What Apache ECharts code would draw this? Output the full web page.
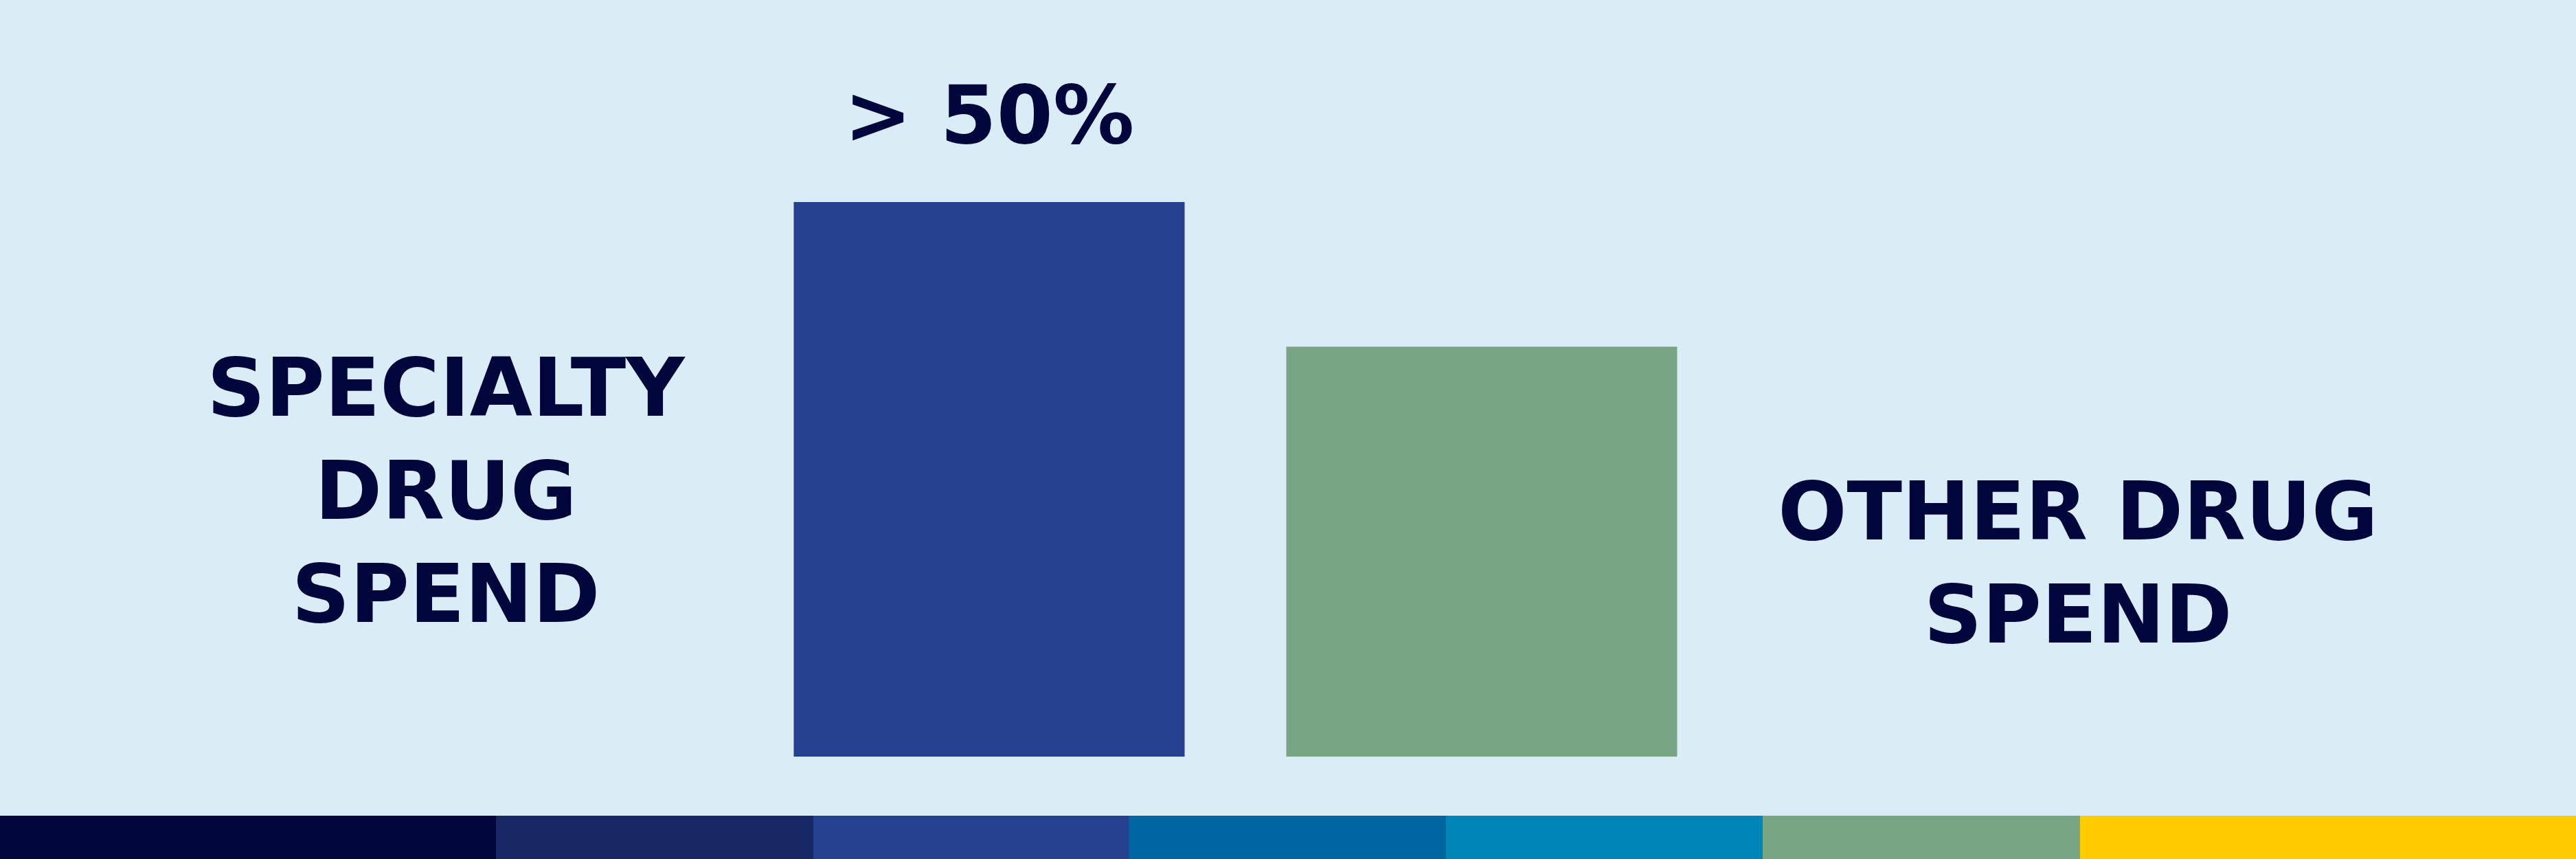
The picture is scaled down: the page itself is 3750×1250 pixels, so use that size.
<!DOCTYPE html>
<html>

<head>
    <meta charset="utf-8">
    <title>Specialty drug spend</title>
    <script src="https://cdn.jsdelivr.net/npm/echarts@6/dist/echarts.min.js"></script>
    <style>
        html, body { margin: 0; padding: 0; background: #daecf6; }
    </style>
</head>

<body>
    <div id="main" style="width: 3750px;height:1250px;"></div>
    <script type="text/javascript">
        // data
        var categories = ['Specialty drug spend', 'Other drug spend'];
        var spendValues = [57.5, 42.5];
        var sideLabels = ['SPECIALTY\nDRUG\nSPEND', 'OTHER DRUG\nSPEND'];
        var topLabels = ['> 50%', ''];
        var barColors = ['#24408e', '#78a583'];

        // colour strip along the bottom
        var stripWidths = [722, 462, 459, 462, 461, 462, 722];
        var stripColors = ['#00053b', '#172865', '#24408e', '#0066a1', '#0085b8', '#78a583', '#ffcc00'];

        var textColor = '#00053b';
        var fontFamily = '"DejaVu Sans", sans-serif';
        var labelOffsets = [[-791, 27], [868, 27]];

        var myChart = echarts.init(document.getElementById('main'));

        var mainData = spendValues.map(function (v, i) {
            return {
                value: v,
                itemStyle: { color: barColors[i] },
                label: { offset: labelOffsets[i] }
            };
        });

        var series = [{
            name: 'spend',
            type: 'bar',
            xAxisIndex: 0,
            yAxisIndex: 0,
            barWidth: 569,
            data: mainData,
            label: {
                show: true,
                position: 'inside',
                formatter: function (p) { return sideLabels[p.dataIndex]; },
                color: textColor,
                fontFamily: fontFamily,
                fontWeight: 'bold',
                fontSize: 118,
                lineHeight: 150,
                align: 'center',
                verticalAlign: 'middle'
            }
        }, {
            name: 'share',
            type: 'bar',
            xAxisIndex: 0,
            yAxisIndex: 0,
            barWidth: 569,
            barGap: '-100%',
            data: spendValues,
            itemStyle: { color: 'rgba(0,0,0,0)' },
            label: {
                show: true,
                position: 'top',
                distance: 57,
                formatter: function (p) { return topLabels[p.dataIndex]; },
                color: textColor,
                fontFamily: fontFamily,
                fontWeight: 'bold',
                fontSize: 118,
                lineHeight: 120
            },
            silent: true
        }];

        stripWidths.forEach(function (w, i) {
            series.push({
                type: 'bar',
                xAxisIndex: 1,
                yAxisIndex: 1,
                stack: 'strip',
                barWidth: '100%',
                data: [w],
                itemStyle: { color: stripColors[i] },
                silent: true
            });
        });

        myChart.setOption({
            backgroundColor: '#daecf6',
            animation: false,
            grid: [{
                left: 1081.5,
                right: 1234.5,
                top: 259,
                bottom: 149
            }, {
                left: 0,
                right: 0,
                top: 1187,
                bottom: 0
            }],
            xAxis: [{
                gridIndex: 0,
                type: 'category',
                data: categories,
                show: false
            }, {
                gridIndex: 1,
                type: 'value',
                min: 0,
                max: 3750,
                show: false
            }],
            yAxis: [{
                gridIndex: 0,
                type: 'value',
                min: 0,
                max: 60,
                show: false
            }, {
                gridIndex: 1,
                type: 'category',
                data: ['strip'],
                show: false
            }],
            series: series
        });
    </script>
</body>

</html>
